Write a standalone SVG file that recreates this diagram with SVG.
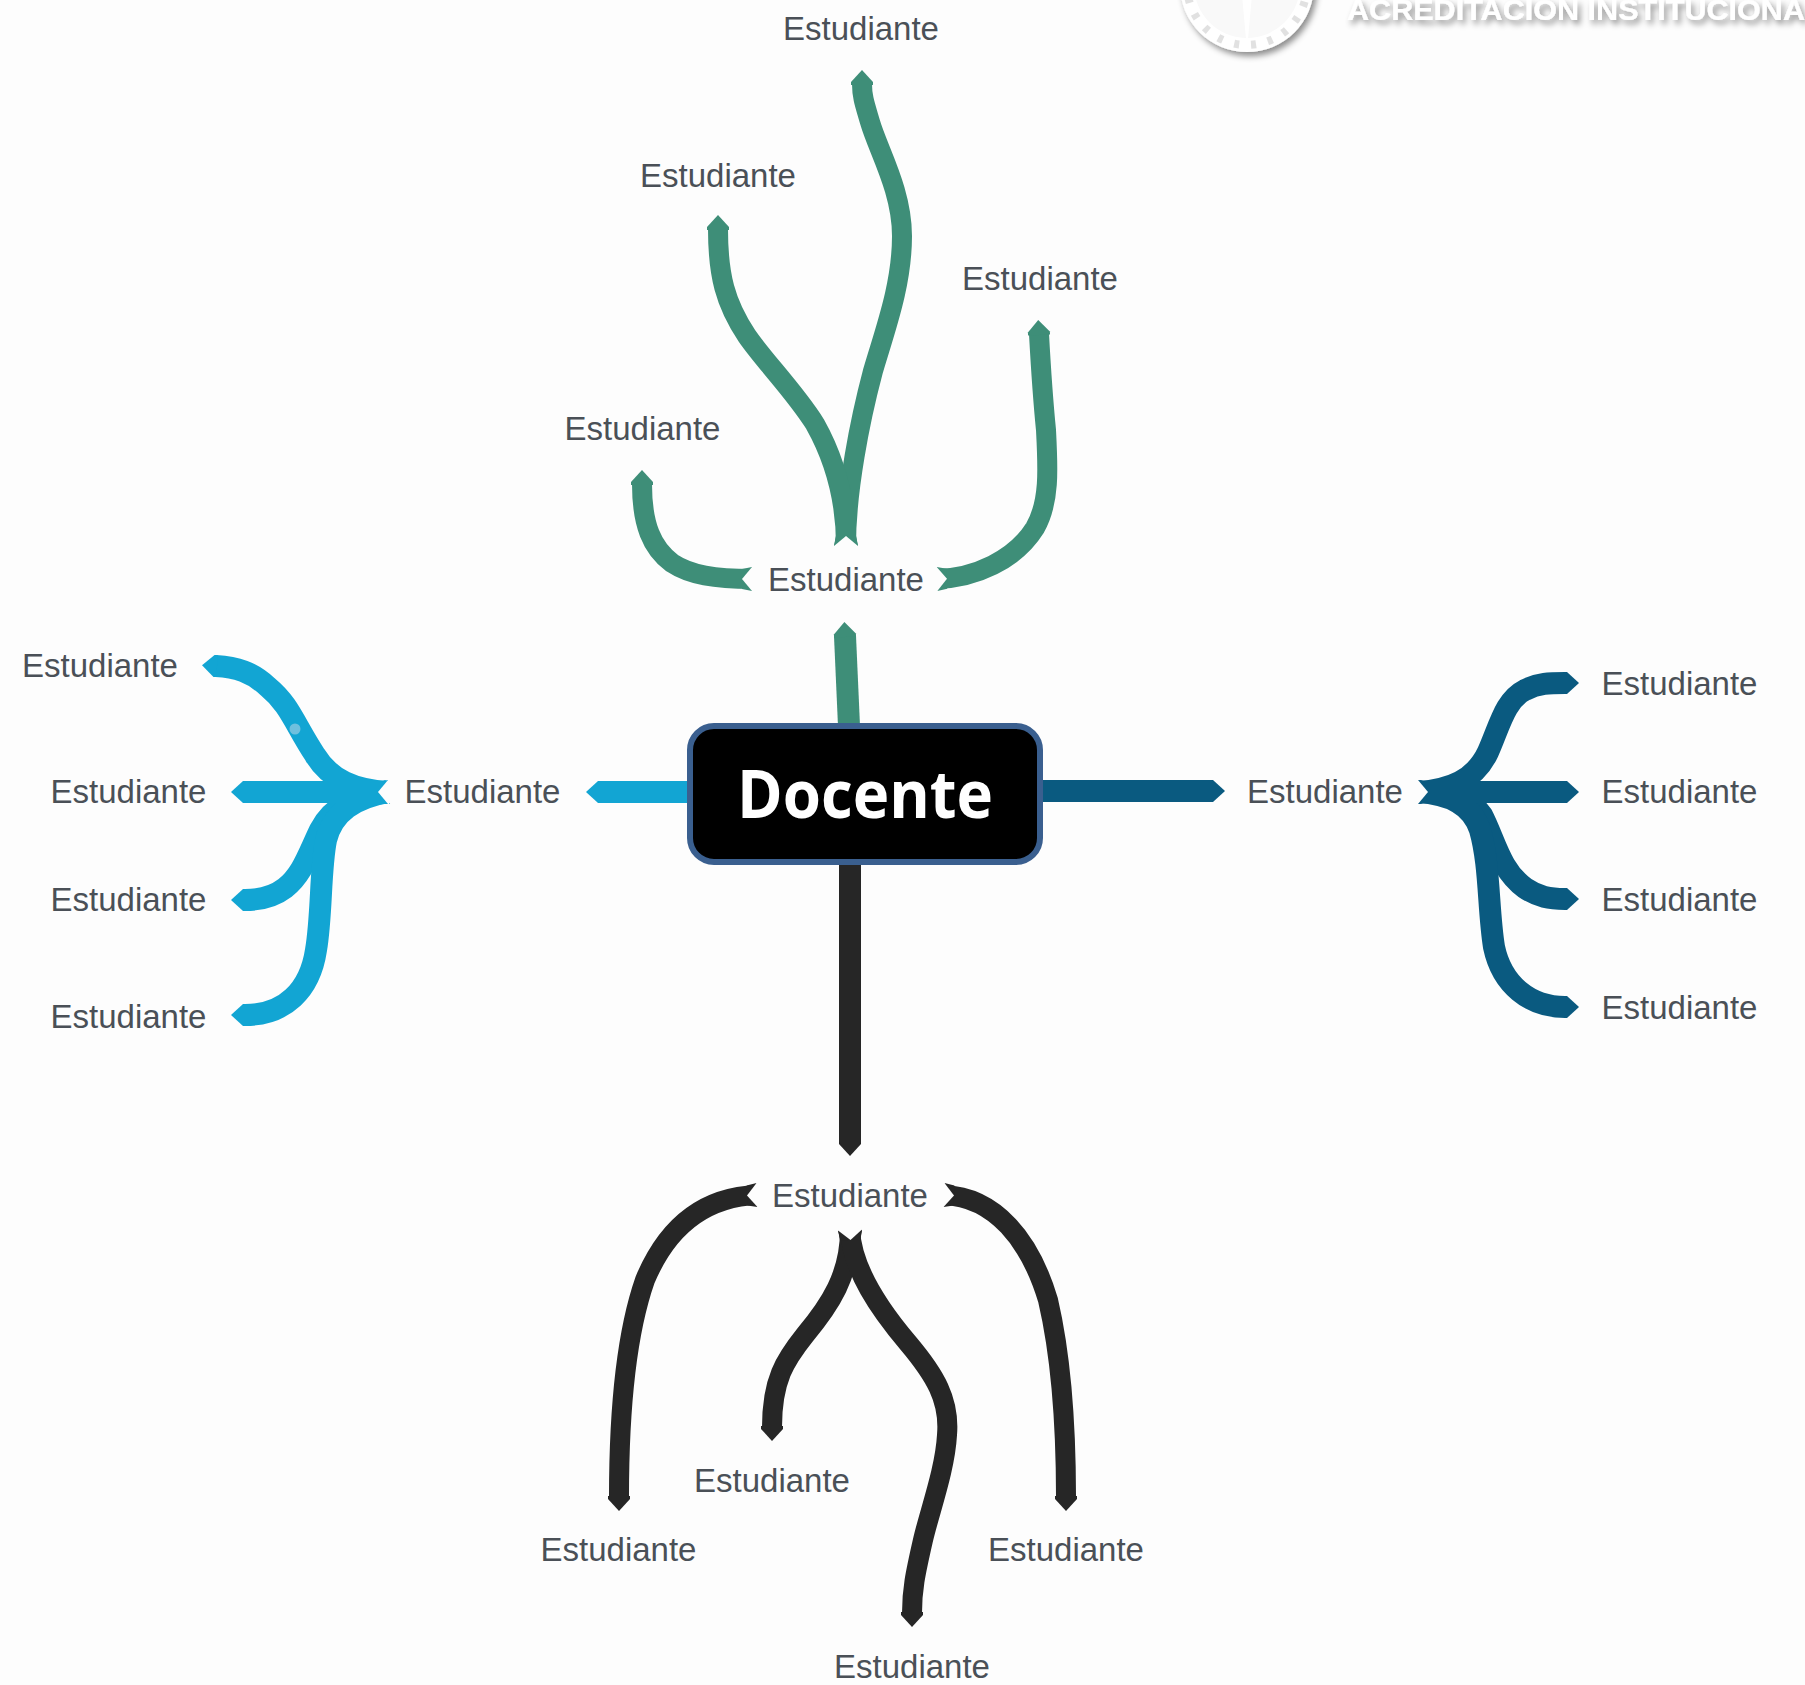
<svg xmlns="http://www.w3.org/2000/svg" width="1805" height="1685" viewBox="0 0 1805 1685">
<style>
.bg{fill:#fdfdfd}
.c{fill:none;stroke-linecap:butt;stroke-width:20}
.t{stroke-width:22}
.green{stroke:#3e8e78;marker-end:url(#tipG)}
.cyan{stroke:#12a5d3;marker-end:url(#tipC)}
.blue{stroke:#0a5a80;marker-end:url(#tipB)}
.black{stroke:#262626;marker-end:url(#tipK)}
.gs{marker-start:url(#tailG)}
.cs{marker-start:url(#tailC)}
.bs{marker-start:url(#tailB)}
.ks{marker-start:url(#tailK)}
.lbl{font:33px "Liberation Sans",Arial,sans-serif;fill:#4a5057;text-anchor:middle}
.logo{fill:#fff}
</style>
<defs>
<filter id="sh" x="-20%" y="-50%" width="140%" height="250%"><feDropShadow dx="3" dy="4" stdDeviation="3" flood-color="#000" flood-opacity=".45"/></filter>
<marker id="tipG" markerUnits="userSpaceOnUse" overflow="visible" orient="auto" markerWidth="30" markerHeight="30"><path fill="#3e8e78" d="M-1,-11 L2,-11 L14,0 L2,11 L-1,11Z"/></marker>
<marker id="tipC" markerUnits="userSpaceOnUse" overflow="visible" orient="auto" markerWidth="30" markerHeight="30"><path fill="#12a5d3" d="M-1,-11 L2,-11 L14,0 L2,11 L-1,11Z"/></marker>
<marker id="tipB" markerUnits="userSpaceOnUse" overflow="visible" orient="auto" markerWidth="30" markerHeight="30"><path fill="#0a5a80" d="M-1,-11 L2,-11 L14,0 L2,11 L-1,11Z"/></marker>
<marker id="tipK" markerUnits="userSpaceOnUse" overflow="visible" orient="auto" markerWidth="30" markerHeight="30"><path fill="#262626" d="M-1,-11 L2,-11 L14,0 L2,11 L-1,11Z"/></marker>
<marker id="tailG" markerUnits="userSpaceOnUse" overflow="visible" orient="auto" markerWidth="30" markerHeight="30"><path fill="#3e8e78" d="M0,-12 L10,-10 L10,10 L0,12Z"/><path fill="#fdfdfd" d="M-1,-12 L0,-12 L10,0 L0,12 L-1,12Z"/></marker>
<marker id="tailC" markerUnits="userSpaceOnUse" overflow="visible" orient="auto" markerWidth="30" markerHeight="30"><path fill="#12a5d3" d="M0,-12 L10,-10 L10,10 L0,12Z"/><path fill="#fdfdfd" d="M-1,-12 L0,-12 L10,0 L0,12 L-1,12Z"/></marker>
<marker id="tailB" markerUnits="userSpaceOnUse" overflow="visible" orient="auto" markerWidth="30" markerHeight="30"><path fill="#0a5a80" d="M0,-12 L10,-10 L10,10 L0,12Z"/><path fill="#fdfdfd" d="M-1,-12 L0,-12 L10,0 L0,12 L-1,12Z"/></marker>
<marker id="tailK" markerUnits="userSpaceOnUse" overflow="visible" orient="auto" markerWidth="30" markerHeight="30"><path fill="#262626" d="M0,-12 L10,-10 L10,10 L0,12Z"/><path fill="#fdfdfd" d="M-1,-12 L0,-12 L10,0 L0,12 L-1,12Z"/></marker>
</defs>
<rect class="bg" width="1805" height="1685"/>
<g id="watermark">
<g filter="url(#sh)">
<circle class="logo" cx="1247" cy="-15" r="67"/>
</g>
<circle cx="1247" cy="-15" r="53" fill="#f9f9f9"/>
<path class="logo" d="M1242,-5 L1252,-5 L1248,39 L1246,39Z"/>
<circle cx="1247" cy="-15" r="60" fill="none" stroke="#d4d4d4" stroke-width="8" stroke-dasharray="5 12" opacity=".7"/>
<text x="1347" y="20" filter="url(#sh)" textLength="458" lengthAdjust="spacingAndGlyphs" style="font:bold 30px 'Liberation Sans',sans-serif;fill:#fff">ACREDITACION INSTITUCIONA</text>
</g>
<g id="connectors">
<path class="c t green" d="M849,726 L845,636"/>
<path class="c green gs" d="M846,546 C846,490 860,420 873,371 C885,330 902,285 902,236 C902,190 878,150 870,122 C865,105 862,97 862,84"/>
<path class="c green gs" d="M846,546 C846,505 838,465 815,424 C795,392 765,362 747,336 C725,303 718,275 718,229"/>
<path class="c green gs" d="M752,579 C715,579 690,575 672,563 C652,548 642,525 642,484"/>
<path class="c green gs" d="M937,579 C975,578 1015,560 1035,528 C1050,502 1048,468 1046,430 C1043,400 1041,370 1039,334"/>
<path class="c t cyan" d="M690,792 L600,792"/>
<path class="c t cyan cs" d="M388,792 C355,790 330,780 315,755 C295,725 290,705 268,687 C252,672 236,667 216,666"/>
<path class="c t cyan cs" d="M388,792 C355,796 332,806 320,830 C308,855 302,875 285,888 C272,898 258,900 245,900"/>
<path class="c t cyan cs" d="M388,792 C355,798 333,812 326,840 C320,870 322,915 316,950 C310,990 285,1015 245,1015"/>
<path class="c t cyan cs" d="M388,792 L245,792"/>
<circle cx="295" cy="729" r="5.5" fill="#6fc0de"/>
<path class="c t blue" d="M1043,791 L1211,791"/>
<path class="c t blue bs" d="M1418,792 C1450,790 1475,780 1488,752 C1500,725 1505,700 1525,690 C1538,683 1550,683 1565,683"/>
<path class="c t blue bs" d="M1418,792 C1450,792 1470,797 1482,815 C1495,840 1500,870 1525,888 C1538,897 1550,899 1565,899"/>
<path class="c t blue bs" d="M1418,792 C1450,794 1472,805 1480,830 C1490,865 1488,910 1494,947 C1502,985 1530,1007 1565,1007"/>
<path class="c t blue bs" d="M1418,792 L1565,792"/>
<path class="c t black" d="M850,862 L850,1142"/>
<path class="c black ks" d="M757,1195 C705,1197 668,1225 645,1280 C624,1340 619,1420 619,1497"/>
<path class="c black ks" d="M944,1195 C995,1197 1030,1240 1048,1300 C1062,1360 1066,1430 1066,1497"/>
<path class="c black ks" d="M850,1230 C850,1275 830,1305 805,1335 C785,1360 772,1380 772,1427"/>
<path class="c black ks" d="M850,1230 C852,1270 880,1310 908,1343 C935,1375 950,1400 947,1435 C945,1470 930,1510 923,1540 C915,1575 912,1590 912,1613"/>
</g>
<g id="n-docente"><rect x="690" y="726" width="350" height="136" rx="24" fill="#000" stroke="#3a5f8f" stroke-width="6"/><text x="865" y="818" text-anchor="middle" textLength="256" lengthAdjust="spacingAndGlyphs" style="font:bold 66px 'Open Sans',sans-serif;fill:#fff">Docente</text></g>
<g id="n-g0"><text class="lbl" x="846" y="591">Estudiante</text></g>
<g id="n-g1"><text class="lbl" x="861" y="40">Estudiante</text></g>
<g id="n-g2"><text class="lbl" x="718" y="187">Estudiante</text></g>
<g id="n-g3"><text class="lbl" x="1040" y="290">Estudiante</text></g>
<g id="n-g4"><text class="lbl" x="642.5" y="440">Estudiante</text></g>
<g id="n-c0"><text class="lbl" x="482.5" y="803">Estudiante</text></g>
<g id="n-c1"><text class="lbl" x="100" y="677">Estudiante</text></g>
<g id="n-c2"><text class="lbl" x="128.5" y="803">Estudiante</text></g>
<g id="n-c3"><text class="lbl" x="128.5" y="911">Estudiante</text></g>
<g id="n-c4"><text class="lbl" x="128.5" y="1028">Estudiante</text></g>
<g id="n-b0"><text class="lbl" x="1325" y="803">Estudiante</text></g>
<g id="n-b1"><text class="lbl" x="1679.5" y="695">Estudiante</text></g>
<g id="n-b2"><text class="lbl" x="1679.5" y="803">Estudiante</text></g>
<g id="n-b3"><text class="lbl" x="1679.5" y="911">Estudiante</text></g>
<g id="n-b4"><text class="lbl" x="1679.5" y="1019">Estudiante</text></g>
<g id="n-k0"><text class="lbl" x="850" y="1207">Estudiante</text></g>
<g id="n-k1"><text class="lbl" x="772" y="1492">Estudiante</text></g>
<g id="n-k2"><text class="lbl" x="618.5" y="1561">Estudiante</text></g>
<g id="n-k3"><text class="lbl" x="1066" y="1561">Estudiante</text></g>
<g id="n-k4"><text class="lbl" x="912" y="1678">Estudiante</text></g>
</svg>
